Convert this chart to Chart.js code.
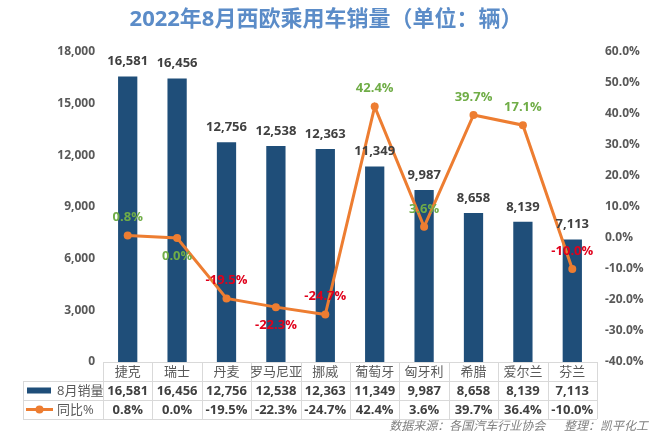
<!DOCTYPE html>
<html>
<head>
<meta charset="utf-8">
<script src="https://cdn.jsdelivr.net/npm/chart.js@4.4.0/dist/chart.umd.min.js"></script>
<style>
  html, body { margin: 0; padding: 0; background: #fff; }
</style>
</head>
<body>
<canvas id="chart" width="657" height="434"></canvas>
<script>
// 数据
const countries = ['捷克', '瑞士', '丹麦', '罗马尼亚', '挪威', '葡萄牙', '匈牙利', '希腊', '爱尔兰', '芬兰'];
const sales = [16581, 16456, 12756, 12538, 12363, 11349, 9987, 8658, 8139, 7113];
const yoy = [0.8, 0.0, -19.5, -22.3, -24.7, 42.4, 3.6, 39.7, 36.4, -10.0];
// labels as printed on the line in the original picture
const yoyLabels = [0.8, 0.0, -19.5, -22.3, -24.7, 42.4, 3.6, 39.7, 17.1, -10.0];
const salesTicks = { min: 0, max: 18000, step: 3000 };
const yoyTicks = { min: -40, max: 60, step: 10 };

const FONT = "'Open Sans','Noto Sans CJK SC',sans-serif";
const BAR_COLOR = '#1F4E79';
const LINE_COLOR = '#ED7D31';
const belowLabels = [1, 3]; // 0.0% 和 -22.3% 标在点下方

const fmt = n => n.toLocaleString('en-US');
const pct = v => v.toFixed(1) + '%';

const extras = {
  id: 'extras',
  afterDraw(chart) {
    const ctx = chart.ctx;
    const area = chart.chartArea;
    const xs = chart.scales.x;
    const n = countries.length;
    const catW = (area.right - area.left) / n;

    ctx.save();
    // 标题
    ctx.font = 'bold 22px ' + FONT;
    ctx.fillStyle = '#5B8CC8';
    ctx.textAlign = 'center';
    ctx.textBaseline = 'middle';
    ctx.fillText('2022年8月西欧乘用车销量（单位：辆）', 326, 20);

    // 柱子数值
    const barMeta = chart.getDatasetMeta(0);
    ctx.font = 'bold 13px ' + FONT;
    ctx.fillStyle = '#404040';
    barMeta.data.forEach((bar, i) => {
      ctx.fillText(fmt(sales[i]), bar.x, bar.y - 15);
    });

    // 同比标签
    const lineMeta = chart.getDatasetMeta(1);
    lineMeta.data.forEach((pt, i) => {
      const v = yoyLabels[i];
      ctx.fillStyle = v < 0 ? '#E0001B' : '#70AD47';
      const dy = belowLabels.includes(i) ? 18 : -18;
      ctx.fillText(pct(v), pt.x, pt.y + dy);
    });

    // 数据表
    const top = area.bottom;
    const rowH = 19;
    const left = 23;
    const right = area.right;
    ctx.strokeStyle = '#D9D9D9';
    ctx.lineWidth = 1;
    ctx.beginPath();
    ctx.moveTo(area.left, top + 0.5); ctx.lineTo(right, top + 0.5);
    for (let r = 1; r <= 3; r++) {
      const y = Math.round(top + r * rowH) + 0.5;
      ctx.moveTo(left, y); ctx.lineTo(right, y);
    }
    ctx.moveTo(left + 0.5, top + rowH); ctx.lineTo(left + 0.5, top + 3 * rowH);
    for (let i = 0; i <= n; i++) {
      const x = Math.round(area.left + i * catW) + 0.5;
      ctx.moveTo(x, top); ctx.lineTo(x, top + 3 * rowH);
    }
    ctx.stroke();

    ctx.textAlign = 'center';
    countries.forEach((c, i) => {
      const cx = xs.getPixelForValue(i);
      ctx.font = '13px ' + FONT;
      ctx.fillStyle = '#595959';
      ctx.fillText(c, cx, top + rowH * 0.5 + 1);
      ctx.font = 'bold 13px ' + FONT;
      ctx.fillStyle = '#404040';
      ctx.fillText(fmt(sales[i]), cx, top + rowH * 1.5 + 1);
      ctx.fillText(pct(yoy[i]), cx, top + rowH * 2.5 + 1);
    });

    // 图例
    const y2 = top + rowH * 1.5;
    const y3 = top + rowH * 2.5;
    ctx.fillStyle = BAR_COLOR;
    ctx.fillRect(27, y2 - 3, 24, 6);
    ctx.strokeStyle = LINE_COLOR;
    ctx.lineWidth = 3;
    ctx.beginPath(); ctx.moveTo(26, y3); ctx.lineTo(53, y3); ctx.stroke();
    ctx.fillStyle = LINE_COLOR;
    ctx.beginPath(); ctx.arc(39.5, y3, 4, 0, Math.PI * 2); ctx.fill();
    ctx.font = '13px ' + FONT;
    ctx.fillStyle = '#595959';
    ctx.textAlign = 'left';
    ctx.fillText('8月销量', 57, y2 + 1);
    ctx.fillText('同比%', 57, y3 + 1);

    // 来源
    ctx.font = 'italic 12px ' + FONT;
    ctx.fillStyle = '#7F7F7F';
    ctx.textAlign = 'right';
    ctx.fillText('数据来源：各国汽车行业协会      整理：凯平化工', 648, 427);
    ctx.restore();
  }
};

new Chart(document.getElementById('chart'), {
  data: {
    labels: countries,
    datasets: [
      {
        type: 'bar',
        label: '8月销量',
        data: sales,
        backgroundColor: BAR_COLOR,
        barPercentage: 0.39,
        categoryPercentage: 1,
        yAxisID: 'y',
        order: 2
      },
      {
        type: 'line',
        label: '同比%',
        data: yoy,
        borderColor: LINE_COLOR,
        backgroundColor: LINE_COLOR,
        borderWidth: 3,
        pointRadius: 4,
        pointBorderWidth: 0,
        tension: 0,
        yAxisID: 'y1',
        order: 1
      }
    ]
  },
  options: {
    responsive: false,
    animation: false,
    layout: { padding: { left: 0, right: 0, top: 52, bottom: 72 } },
    plugins: { legend: { display: false }, tooltip: { enabled: false }, title: { display: false } },
    scales: {
      x: { display: false, offset: true },
      y: {
        position: 'left',
        min: salesTicks.min, max: salesTicks.max,
        ticks: { stepSize: salesTicks.step, callback: v => fmt(v), padding: 8, color: '#595959', font: { family: FONT, size: 12, weight: 'bold' } },
        grid: { display: false, drawTicks: false },
        border: { display: false },
        afterFit: s => { s.width = 103; }
      },
      y1: {
        position: 'right',
        min: yoyTicks.min, max: yoyTicks.max,
        ticks: { stepSize: yoyTicks.step, callback: v => pct(v), padding: 8, color: '#595959', font: { family: FONT, size: 12, weight: 'bold' } },
        grid: { display: false, drawTicks: false },
        border: { display: false },
        afterFit: s => { s.width = 60; }
      }
    }
  },
  plugins: [extras]
});
</script>
</body>
</html>
